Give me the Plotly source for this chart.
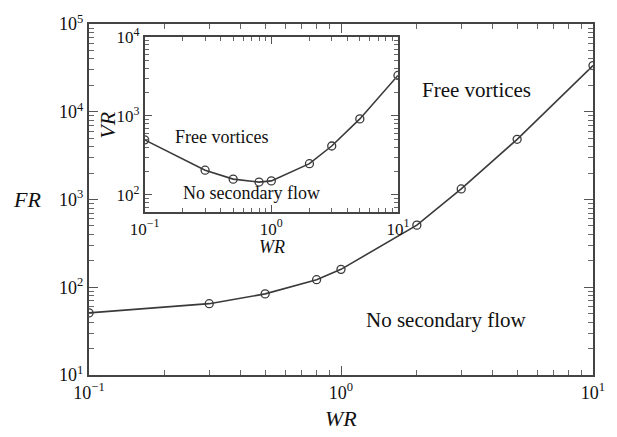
import plotly.graph_objects as go

# Main chart data
wr_main = [0.1, 0.3, 0.5, 0.8, 1.0, 2.0, 3.0, 5.0, 10.0]
fr_main = [51, 65, 84, 122, 160, 510, 1320, 4850, 33600]

# Inset data
wr_inset = [0.1, 0.3, 0.5, 0.8, 1.0, 2.0, 3.0, 5.0, 10.0]
vr_inset = [497, 205, 158, 145, 150, 248, 415, 915, 3250]

# Tick labels
x_tickvals = [0.1, 1, 10]
x_ticktext = ["10<sup>−1</sup>", "10<sup>0</sup>", "10<sup>1</sup>"]
y_main_tickvals = [10, 100, 1000, 10000, 100000]
y_main_ticktext = ["10<sup>1</sup>", "10<sup>2</sup>", "10<sup>3</sup>", "10<sup>4</sup>", "10<sup>5</sup>"]
y_inset_tickvals = [100, 1000, 10000]
y_inset_ticktext = ["10<sup>2</sup>", "10<sup>3</sup>", "10<sup>4</sup>"]

FONT = "Liberation Serif"
LC = "#3a3a3a"

fig = go.Figure()

marker = dict(symbol="circle-open", size=8, color=LC, line=dict(width=1.3, color=LC))

fig.add_trace(go.Scatter(x=wr_main, y=fr_main, mode="lines+markers",
                         line=dict(color=LC, width=1.6), marker=marker,
                         xaxis="x", yaxis="y", showlegend=False))
fig.add_trace(go.Scatter(x=wr_inset, y=vr_inset, mode="lines+markers",
                         line=dict(color=LC, width=1.6), marker=marker,
                         xaxis="x2", yaxis="y2", showlegend=False))

def ax(rng, size, ticklen, minorlen, lw, tv, tt, **kw):
    d = dict(type="log", range=rng, tickmode="array", tickvals=tv, ticktext=tt,
             showline=True, linecolor="#444", linewidth=lw, mirror="ticks",
             ticks="inside", ticklen=ticklen, tickwidth=1.2, tickcolor="#555",
             showgrid=False, zeroline=False,
             tickfont=dict(family=FONT, size=size, color="#111"),
             minor=dict(ticks="inside", ticklen=minorlen, dtick="D1",
                        tickcolor="#666", tickwidth=1, showgrid=False))
    d.update(kw)
    return d

px_w = 617 - 89 - 12
px_h = 437 - 14 - 62

ix0 = (146 - 89) / px_w
ix1 = (405.3 - 89) / px_w
iy0 = (375 - 207.7) / px_h
iy1 = (375 - 27.3) / px_h

fig.update_layout(
    width=617, height=437, autosize=False,
    margin=dict(l=89, r=12, t=14, b=62),
    paper_bgcolor="white", plot_bgcolor="white",
    xaxis=ax([-1, 1], 18, 9, 5, 2, x_tickvals, x_ticktext, domain=[0, 1], anchor="y"),
    yaxis=ax([1, 5], 18, 9, 5, 2, y_main_tickvals, y_main_ticktext, domain=[0, 1], anchor="x"),
    xaxis2=ax([-1, 1], 17, 7, 4, 1.8, x_tickvals, x_ticktext, domain=[ix0, ix1], anchor="y2"),
    yaxis2=ax([1.778, 4], 17, 7, 4, 1.8, y_inset_tickvals, y_inset_ticktext, domain=[iy0, iy1], anchor="x2"),
)

ann = []
def txt(x, y, s, size, italic=False, angle=0):
    ann.append(dict(xref="paper", yref="paper", x=(x - 89) / px_w, y=(375 - y) / px_h,
                    text=("<i>%s</i>" % s) if italic else s, showarrow=False,
                    xanchor="center", yanchor="middle", textangle=angle,
                    font=dict(family=FONT, size=size, color="#111")))

txt(486, 82, "Free vortices", 21)
txt(455, 318, "No secondary flow", 21)
txt(225, 130, "Free vortices", 18)
txt(255, 188, "No secondary flow", 18)
txt(26, 195, "FR", 22, italic=True)
txt(347, 420, "WR", 22, italic=True)
txt(108, 118, "VR", 22, italic=True, angle=-90)
txt(276, 243, "WR", 18, italic=True)

fig.update_layout(annotations=ann)

fig.write_html("out.html",
               config={"displayModeBar": False, "responsive": False},
               post_script="document.body.style.margin='0';document.body.style.overflow='hidden';")
